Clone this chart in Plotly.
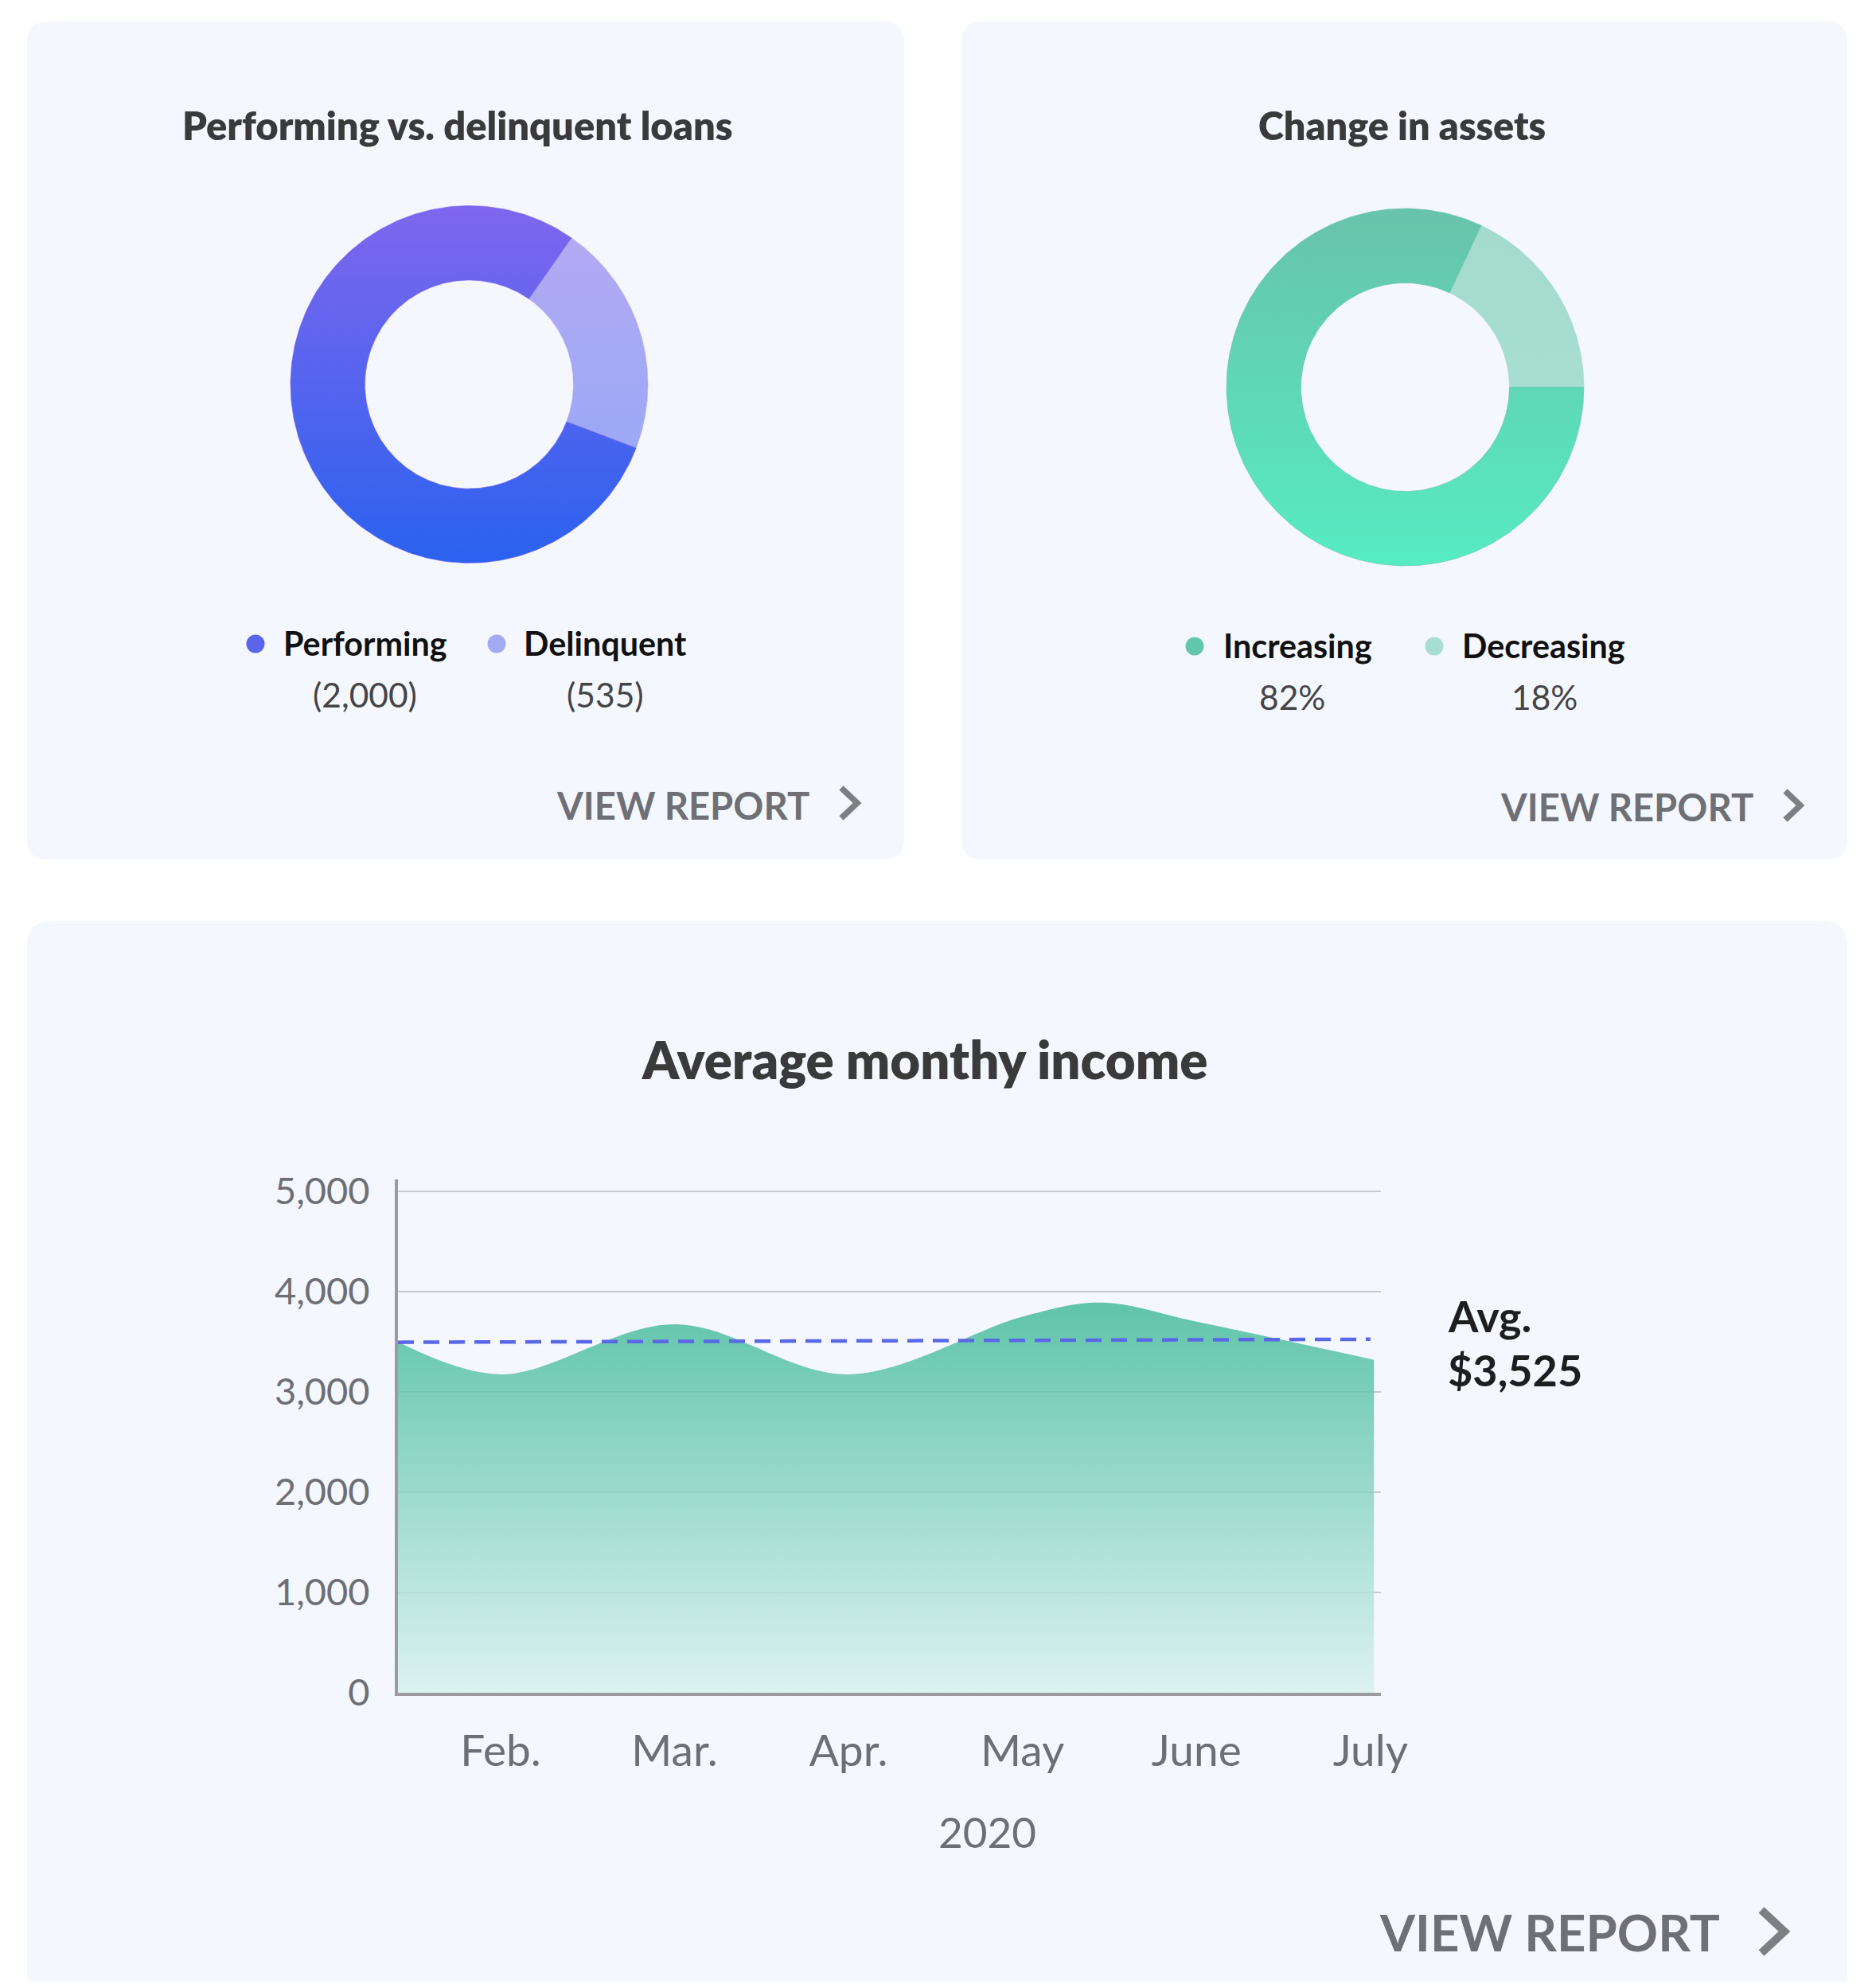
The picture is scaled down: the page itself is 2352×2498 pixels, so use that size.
import numpy as np
import plotly.graph_objects as go

# page is 2352 x 2498; the body keeps an 8px margin around the figure
OFF_X, OFF_Y = 8, 8
W, H = 2336, 2482

# ---------------- data ----------------
loan_labels = ["Performing", "Delinquent"]
loan_values = [2000, 535]
loan_texts = ["(2,000)", "(535)"]

asset_labels = ["Increasing", "Decreasing"]
asset_values = [82, 18]
asset_texts = ["82%", "18%"]

month_labels = ["Feb.", "Mar.", "Apr.", "May", "June", "July"]
month_ticks = [2, 3, 4, 5, 6, 7]
income_x = [1.41, 2, 3, 4, 5, 5.45, 6, 7.02]
income_y = [3500, 3175, 3675, 3175, 3750, 3890, 3700, 3320]
avg_income = 3525
avg_line_x = [1.41, 7.0]
avg_line_y = [3495, 3525]
y_ticks = [0, 1000, 2000, 3000, 4000, 5000]
year_label = "2020"

# ---------------- helpers (page pixel -> paper) ----------------
def X(px):
    return (px - OFF_X) / W


def Y(py):
    return 1 - (py - OFF_Y) / H


FONT = "Lato"


def rrect_path(x0, y0, x1, y1, r):
    return (f"M {X(x0+r)},{Y(y0)} L {X(x1-r)},{Y(y0)} Q {X(x1)},{Y(y0)} {X(x1)},{Y(y0+r)} "
            f"L {X(x1)},{Y(y1-r)} Q {X(x1)},{Y(y1)} {X(x1-r)},{Y(y1)} "
            f"L {X(x0+r)},{Y(y1)} Q {X(x0)},{Y(y1)} {X(x0)},{Y(y1-r)} "
            f"L {X(x0)},{Y(y0+r)} Q {X(x0)},{Y(y0)} {X(x0+r)},{Y(y0)} Z")


R_IN = 131 / 224.5


def donut_traces(values, order, colorscales, start_deg, xa, ya):
    total = float(sum(values))
    traces = []
    a0 = start_deg
    for i in order:
        span = 360.0 * values[i] / total
        a = np.radians(np.linspace(a0, a0 + span, 240))
        xo, yo = np.sin(a), np.cos(a)
        xi, yi = R_IN * np.sin(a[::-1]), R_IN * np.cos(a[::-1])
        xs = np.concatenate([xo, xi, xo[:1]])
        ys = np.concatenate([yo, yi, yo[:1]])
        traces.append(go.Scatter(
            x=xs, y=ys, mode="lines", fill="toself",
            line=dict(width=0.6, color=colorscales[i][1][1]),
            fillgradient=dict(type="vertical", colorscale=colorscales[i], start=-1, stop=1),
            xaxis=xa, yaxis=ya, hoverinfo="skip", showlegend=False))
        a0 += span
    return traces


fig = go.Figure()

# donut 1: performing vs delinquent
loan_cs = [
    [[0, "#2A62EF"], [1, "#7F66EE"]],
    [[0, "#8DA9F8"], [1, "#B7A9F2"]],
]
loan_span = loan_values[1] / sum(loan_values) * 360
start1 = 72.9 - loan_span / 2
for t in donut_traces(loan_values, [1, 0], loan_cs, start1, "x", "y"):
    fig.add_trace(t)

# donut 2: change in assets
asset_cs = [
    [[0, "#56ECC3"], [1, "#68C3A9"]],
    [[0, "#A9E3D4"], [1, "#A4DACC"]],
]
start2 = 90 - asset_values[1] / sum(asset_values) * 360
for t in donut_traces(asset_values, [1, 0], asset_cs, start2, "x2", "y2"):
    fig.add_trace(t)

# income area
fig.add_trace(go.Scatter(
    x=income_x, y=income_y, mode="lines",
    line=dict(shape="spline", smoothing=1.0, width=0, color="#5EC4A7"),
    fill="tozeroy",
    fillgradient=dict(type="vertical",
                      colorscale=[[0, "rgba(215,241,238,0.82)"], [1, "rgba(62,185,149,0.82)"]],
                      start=0, stop=3900),
    xaxis="x3", yaxis="y3", hoverinfo="skip", showlegend=False))

fig.add_trace(go.Scatter(
    x=avg_line_x, y=avg_line_y, mode="lines",
    line=dict(color="#5A67E6", width=4.5, dash="20px,12px"),
    xaxis="x3", yaxis="y3", hoverinfo="skip", showlegend=False))

# ---------------- axes ----------------
half = 1.2 * 224.5
c1 = (589.5, 483.0)
c2 = (1765.5, 486.5)
for idx, (cx, cy) in zip(["", "2"], [c1, c2]):
    fig.update_layout(**{
        f"xaxis{idx}": dict(domain=[X(cx - half), X(cx + half)], range=[-1.2, 1.2], visible=False,
                            fixedrange=True, automargin=False),
        f"yaxis{idx}": dict(domain=[Y(cy + half), Y(cy - half)], range=[-1.2, 1.2], visible=False,
                            fixedrange=True, automargin=False),
    })

fig.update_layout(
    xaxis3=dict(domain=[X(500), X(1735)], range=[1.41, 7.06], anchor="y3", automargin=False,
                tickvals=month_ticks, ticktext=month_labels, showgrid=False, zeroline=False,
                showline=True, linecolor="#9C9C9C", linewidth=4, ticks="",
                ticklabelstandoff=22,
                tickfont=dict(family=FONT, size=55, color="#6E6F74")),
    yaxis3=dict(domain=[Y(2127), Y(1482)], range=[0, 5119], anchor="x3", automargin=False,
                tickvals=y_ticks, tickformat=",", showgrid=True, gridcolor="#C8CBD2", gridwidth=2,
                zeroline=False, showline=True, linecolor="#9C9C9C", linewidth=4, ticks="",
                ticklabelstandoff=22,
                tickfont=dict(family=FONT, size=47, color="#6E6F74")),
)

# ---------------- cards ----------------
shapes = []
card_fill = "#F4F7FE"
shapes.append(dict(type="path", path=rrect_path(34, 27, 1136, 1080, 26), xref="paper", yref="paper",
                   fillcolor=card_fill, line=dict(width=0), layer="below"))
shapes.append(dict(type="path", path=rrect_path(1208, 27, 2321, 1080, 26), xref="paper", yref="paper",
                   fillcolor=card_fill, line=dict(width=0), layer="below"))
shapes.append(dict(type="path", path=rrect_path(34, 1157, 2321, 2600, 32), xref="paper", yref="paper",
                   fillcolor=card_fill, line=dict(width=0), layer="below"))


def chevron(x0, y0, x1, ym, y1, w):
    return dict(type="path", xref="paper", yref="paper",
                path=f"M {X(x0)},{Y(y0)} L {X(x1)},{Y(ym)} L {X(x0)},{Y(y1)}",
                line=dict(color="#7E7F80", width=w))


shapes.append(chevron(1057, 990, 1077, 1009, 1028, 7.5))
shapes.append(chevron(2243, 994, 2262, 1012, 1030, 7.5))
shapes.append(chevron(2213, 2400, 2242, 2427, 2454, 10))


def dot(cx, cy, color, d=23):
    return dict(type="circle", xref="paper", yref="paper",
                x0=X(cx - d / 2), x1=X(cx + d / 2), y0=Y(cy + d / 2), y1=Y(cy - d / 2),
                fillcolor=color, line=dict(width=0))


loan_dot_colors = ["#5A65EA", "#A2AAF4"]
asset_dot_colors = ["#63C8AB", "#A6DFD1"]
shapes.append(dot(321, 809, loan_dot_colors[0]))
shapes.append(dot(624, 809, loan_dot_colors[1]))
shapes.append(dot(1501, 812, asset_dot_colors[0]))
shapes.append(dot(1802, 812, asset_dot_colors[1]))

# ---------------- annotations ----------------
ann = []


def text(x, y, s, size, color, weight=400, xanchor="center", yanchor="middle"):
    ann.append(dict(x=X(x), y=Y(y), xref="paper", yref="paper", text=s, showarrow=False,
                    xanchor=xanchor, yanchor=yanchor,
                    font=dict(family=FONT, size=size, color=color, weight=weight)))


text(575, 157, "Performing vs. delinquent loans", 48.8, "#3A3A3A", 800)
text(1761, 157, "Change in assets", 48.5, "#3A3A3A", 800)
text(1161, 1331, "Average monthy income", 65.3, "#3A3A3A", 800)

# legends
text(354, 808, loan_labels[0], 41.3, "#111111", 700, xanchor="left")
text(656, 808, loan_labels[1], 41.3, "#111111", 700, xanchor="left")
text(458, 872, loan_texts[0], 42.5, "#454545")
text(760, 872, loan_texts[1], 42.5, "#454545")

text(1535, 811, asset_labels[0], 41.3, "#111111", 700, xanchor="left")
text(1835, 811, asset_labels[1], 41.3, "#111111", 700, xanchor="left")
text(1623, 875, asset_texts[0], 42.5, "#454545")
text(1940, 875, asset_texts[1], 42.5, "#454545")

# view report links
text(858, 1011, "VIEW REPORT", 47.2, "#6F7075", 700)
text(2044, 1013, "VIEW REPORT", 47.2, "#6F7075", 700)
text(1947, 2427, "VIEW REPORT", 63.5, "#6F7075", 700)

# average label + year
text(1817, 1653, "Avg.", 54, "#1E1E1E", 700, xanchor="left")
text(1817, 1721, f"${avg_income:,}", 54, "#1E1E1E", 700, xanchor="left")
text(1240, 2301, year_label, 53, "#6E6F74")

fig.update_layout(
    width=W, height=H,
    margin=dict(l=0, r=0, t=0, b=0, pad=0, autoexpand=False),
    paper_bgcolor="#FFFFFF", plot_bgcolor="rgba(0,0,0,0)",
    shapes=shapes, annotations=ann, showlegend=False,
    font=dict(family=FONT),
)

fig.write_html("out.html")
